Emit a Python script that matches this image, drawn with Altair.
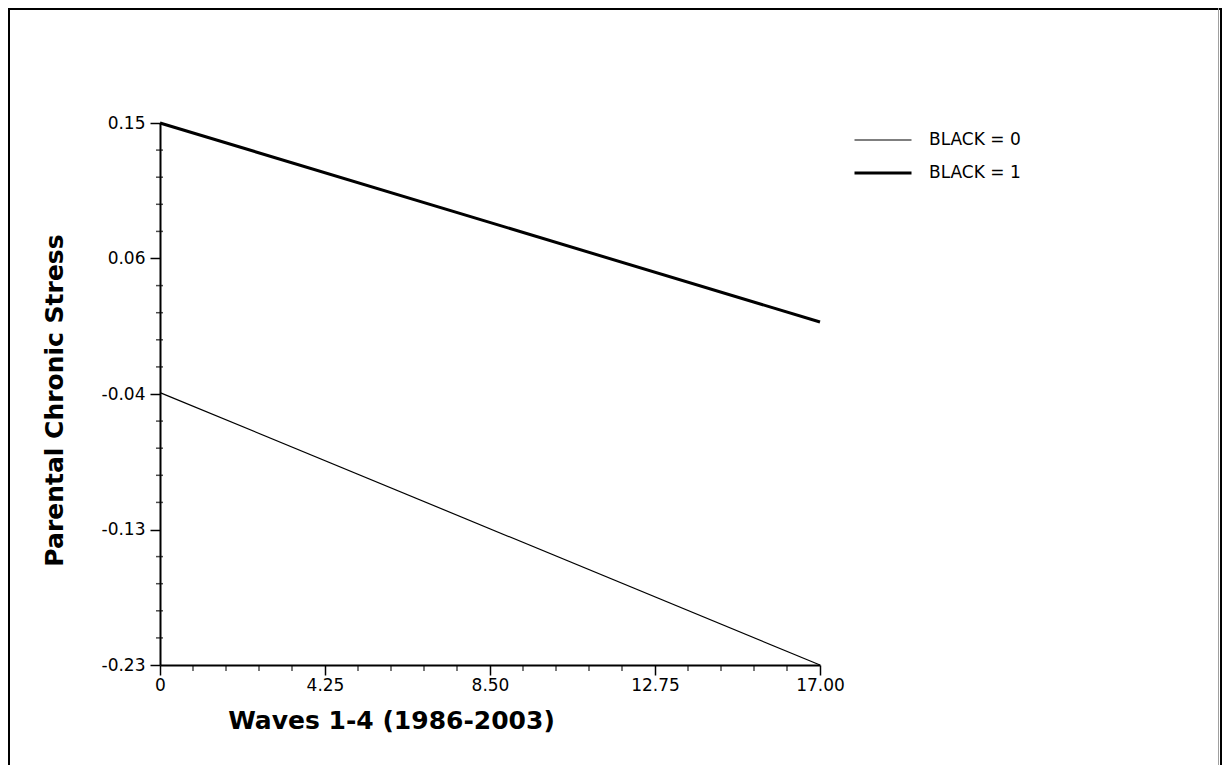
import altair as alt
import pandas as pd

# ---------------- data ----------------
groups = ["BLACK = 0", "BLACK = 1"]
wave_points = [0, 17]
stress_black0 = [-0.039, -0.23]
stress_black1 = [0.15, 0.0105]

x_ticks = [0, 4.25, 8.5, 12.75, 17]
x_tick_labels = ["0", "4.25", "8.50", "12.75", "17.00"]
x_minor = [0.85, 1.7, 2.55, 3.4, 5.1, 5.95, 6.8, 7.65,
           9.35, 10.2, 11.05, 11.9, 13.6, 14.45, 15.3, 16.15]

y_ticks = [-0.23, -0.135, -0.04, 0.055, 0.15]
y_tick_labels = ["-0.23", "-0.13", "-0.04", "0.06", "0.15"]
y_minor = [-0.211, -0.192, -0.173, -0.154, -0.116, -0.097, -0.078, -0.059,
           -0.021, -0.002, 0.017, 0.036, 0.074, 0.093, 0.112, 0.131]

x_domain = [0, 17]
y_domain = [-0.23, 0.15]

# ---------------- tables ----------------
lines_df = pd.DataFrame({
    "wave": wave_points * 2,
    "stress": stress_black0 + stress_black1,
    "group": [groups[0]] * 2 + [groups[1]] * 2,
})
xminor_df = pd.DataFrame({"wave": x_minor, "stress": [y_domain[0]] * len(x_minor)})
yminor_df = pd.DataFrame({"wave": [x_domain[0]] * len(y_minor), "stress": y_minor})
dummy = pd.DataFrame({"a": [0]})


def label_expr(values, labels):
    expr = "''"
    for v, l in reversed(list(zip(values, labels))):
        expr = f"abs(datum.value - ({v})) < 1e-6 ? '{l}' : ({expr})"
    return expr


W, H = 660, 542
PAD_L, PAD_T, PAD_R, PAD_B = 152, 115, 402, 100

x_scale = alt.Scale(domain=x_domain, nice=False, zero=False)
y_scale = alt.Scale(domain=y_domain, nice=False, zero=False)

x_axis = alt.Axis(
    values=x_ticks, labelExpr=label_expr(x_ticks, x_tick_labels),
    title="Waves 1-4 (1986-2003)", grid=False,
    domainColor="black", domainWidth=2, tickColor="black", tickWidth=1.5, tickSize=10,
    labelFont="DejaVu Sans", labelFontSize=17, labelColor="black", labelPadding=2,
    labelFlush=False, labelOverlap=False,
    titleFont="DejaVu Sans", titleFontSize=25, titleFontWeight="bold", titleColor="black",
    titleX=231, titleY=55, titleAlign="center", titleBaseline="middle",
)
y_axis = alt.Axis(
    values=y_ticks, labelExpr=label_expr(y_ticks, y_tick_labels),
    title="Parental Chronic Stress", grid=False,
    domainColor="black", domainWidth=2, tickColor="black", tickWidth=1.5, tickSize=10,
    labelFont="DejaVu Sans", labelFontSize=17, labelColor="black", labelPadding=5,
    labelFlush=False, labelOverlap=False,
    titleFont="DejaVu Sans", titleFontSize=25, titleFontWeight="bold", titleColor="black",
    titleX=-106, titleY=277, titleAngle=270, titleAlign="center", titleBaseline="middle",
)

lines = alt.Chart(lines_df).mark_line(color="black", strokeCap="butt").encode(
    x=alt.X("wave:Q", scale=x_scale, axis=x_axis),
    y=alt.Y("stress:Q", scale=y_scale, axis=y_axis),
    strokeWidth=alt.StrokeWidth(
        "group:O",
        scale=alt.Scale(domain=groups, range=[1.2, 3]),
        legend=alt.Legend(
            title=None, orient="none", legendX=693, legendY=7, padding=0,
            symbolType="stroke", symbolSize=3249, symbolStrokeColor="black",
            symbolOffset=0, clipHeight=20, rowPadding=13,
            labelFont="DejaVu Sans", labelFontSize=17, labelColor="black", labelOffset=16,
        ),
    ),
)

xminor = alt.Chart(xminor_df).mark_tick(
    color="black", orient="vertical", size=6, thickness=1.5, yOffset=3
).encode(
    x=alt.X("wave:Q", scale=x_scale),
    y=alt.Y("stress:Q", scale=y_scale),
)

yminor = alt.Chart(yminor_df).mark_tick(
    color="black", orient="horizontal", size=7, thickness=1.5, xOffset=-0.5
).encode(
    x=alt.X("wave:Q", scale=x_scale),
    y=alt.Y("stress:Q", scale=y_scale),
)

frame_left = alt.Chart(dummy).mark_rule(color="black", strokeWidth=2).encode(
    x=alt.value(-PAD_L + 1), y=alt.value(-PAD_T), y2=alt.value(H + PAD_B)
)
frame_top = alt.Chart(dummy).mark_rule(color="black", strokeWidth=2).encode(
    x=alt.value(-PAD_L), x2=alt.value(W + PAD_R), y=alt.value(-PAD_T + 1)
)
frame_right_gray = alt.Chart(dummy).mark_rule(color="#a0a0a0", strokeWidth=1).encode(
    x=alt.value(W + PAD_R - 3.5), y=alt.value(-PAD_T), y2=alt.value(H + PAD_B)
)
frame_right = alt.Chart(dummy).mark_rule(color="black", strokeWidth=2).encode(
    x=alt.value(W + PAD_R - 1), y=alt.value(-PAD_T), y2=alt.value(H + PAD_B)
)

chart = alt.layer(
    frame_left, frame_top, frame_right_gray, frame_right, xminor, yminor, lines
).properties(
    width=W, height=H,
    autosize=alt.AutoSizeParams(type="none"),
    padding={"left": PAD_L, "top": PAD_T, "right": PAD_R, "bottom": PAD_B},
    background="white",
).configure_view(stroke=None)

chart.save("out.html", embed_options={"renderer": "svg", "actions": False})
